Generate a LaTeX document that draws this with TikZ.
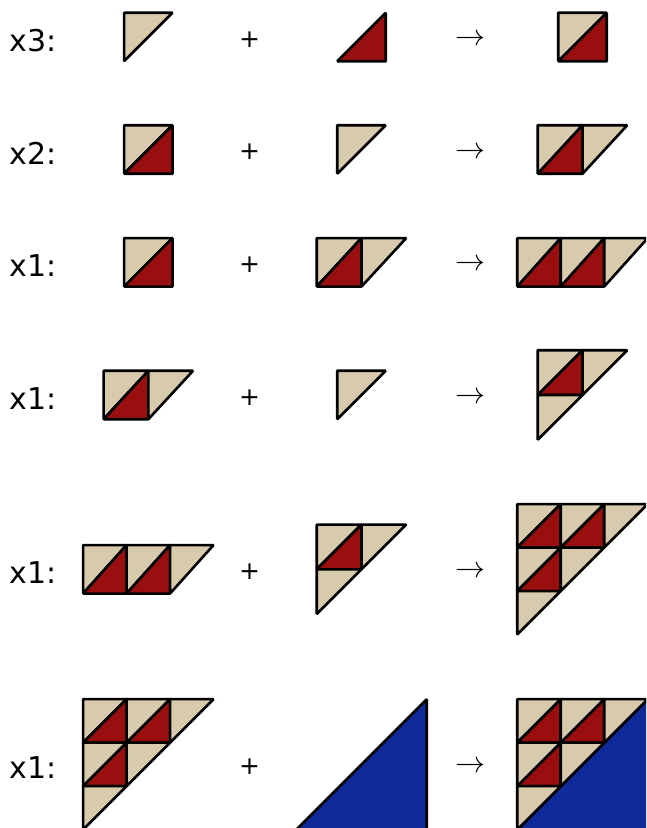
\documentclass[tikz,border=0pt]{standalone}
\usepackage{graphicx}
\usepackage{fontspec}
\setmainfont{DejaVu Sans}
\definecolor{tanc}{HTML}{D7CAAD}
\definecolor{redc}{HTML}{990F0F}
\definecolor{bluec}{HTML}{112A9A}
\tikzset{
  piece/.style={draw=black, line width=2.6pt, line join=bevel},
  tanp/.style={piece, fill=tanc},
  redp/.style={piece, fill=redc},
  bluep/.style={piece, fill=bluec},
  lab/.style={inner sep=0pt, anchor=base west, font=\fontsize{30}{36}\selectfont},
  plus/.style={inner sep=0pt, anchor=center, font=\fontsize{25}{30}\selectfont},
  arr/.style={inner sep=0pt, anchor=center}
}
\newcommand{\myarrow}{\scalebox{3}{$\rightarrow$}}
% pieces in cell (col,row), rows going down
\newcommand{\pT}[2]{\filldraw[tanp] (#1,#2) -- ++(1,0) -- ++(-1,1) -- cycle;}
\newcommand{\pR}[2]{\filldraw[redp] (#1+1,#2) -- ++(0,1) -- ++(-1,0) -- cycle;}
\newcommand{\pS}[2]{\pT{#1}{#2}\pR{#1}{#2}}
\newcommand{\blockat}[5]{\begin{scope}[shift={(#1pt,-#2pt)}, x=#3pt, y=-#4pt]#5\end{scope}}
\newcommand{\stair}{\pS{0}{0}\pS{1}{0}\pT{2}{0}\pS{0}{1}\pT{1}{1}\pT{0}{2}}
\newcommand{\smallstair}{\pS{0}{0}\pT{1}{0}\pT{0}{1}}
\begin{document}
\begin{tikzpicture}
\useasboundingbox (0,0) rectangle (646pt,-828pt);
\clip (0,0) rectangle (646pt,-828pt);
% ---- labels, plus signs, arrows
\node[lab] (l1) at (9.5pt,-51.5pt) {x3:};
\node[lab] (l2) at (9.5pt,-164pt) {x2:};
\node[lab] (l3) at (9.5pt,-276.8pt) {x1:};
\node[lab] (l4) at (9.5pt,-409.5pt) {x1:};
\node[lab] (l5) at (9.5pt,-583.8pt) {x1:};
\node[lab] (l6) at (9.5pt,-778.9pt) {x1:};
\node[plus] (p1) at (249.5pt,-39.5pt) {+};
\node[plus] (p2) at (249.5pt,-152pt) {+};
\node[plus] (p3) at (249.5pt,-264.8pt) {+};
\node[plus] (p4) at (249.5pt,-397.5pt) {+};
\node[plus] (p5) at (249.5pt,-571.8pt) {+};
\node[plus] (p6) at (249.5pt,-766.9pt) {+};
\node[arr] (a1) at (470.3pt,-40pt) {\myarrow};
\node[arr] (a2) at (470.3pt,-152.5pt) {\myarrow};
\node[arr] (a3) at (470.3pt,-265.3pt) {\myarrow};
\node[arr] (a4) at (470.3pt,-398pt) {\myarrow};
\node[arr] (a5) at (470.3pt,-572.3pt) {\myarrow};
\node[arr] (a6) at (470.3pt,-767.4pt) {\myarrow};
% ---- row 1
\blockat{124.05}{12.75}{48.5}{48.5}{\pT{0}{0}}
\blockat{337.25}{12.75}{48.5}{48.5}{\pR{0}{0}}
\blockat{558.25}{12.75}{48.5}{48.5}{\pS{0}{0}}
% ---- row 2
\blockat{124.05}{125.25}{48.5}{48.5}{\pS{0}{0}}
\blockat{337.25}{125.25}{48.5}{48.5}{\pT{0}{0}}
\blockat{537.75}{125.25}{44.75}{48.5}{\pS{0}{0}\pT{1}{0}}
% ---- row 3
\blockat{124.05}{238.05}{48.5}{48.5}{\pS{0}{0}}
\blockat{316.75}{238.05}{44.75}{48.5}{\pS{0}{0}\pT{1}{0}}
\blockat{517.25}{238.05}{43.5}{48.5}{\pS{0}{0}\pS{1}{0}\pT{2}{0}}
% ---- row 4
\blockat{103.55}{370.75}{44.75}{48.5}{\pS{0}{0}\pT{1}{0}}
\blockat{337.25}{370.75}{48.5}{48.5}{\pT{0}{0}}
\blockat{537.75}{350.25}{44.75}{44.75}{\smallstair}
% ---- row 5
\blockat{83.05}{545.05}{43.5}{48.5}{\pS{0}{0}\pS{1}{0}\pT{2}{0}}
\blockat{316.75}{524.55}{44.75}{44.75}{\smallstair}
\blockat{517.25}{504.05}{43.5}{43.5}{\stair}
% ---- row 6
\blockat{83.05}{699.15}{43.5}{43.5}{\stair}
\blockat{296.25}{699.15}{43.5}{43.5}{\filldraw[bluep] (3,0) -- (3,3) -- (0,3) -- cycle;}
\blockat{517.25}{699.15}{43.5}{43.5}{\filldraw[bluep] (3,0) -- (3,3) -- (0,3) -- cycle;\stair}
\end{tikzpicture}
\end{document}
